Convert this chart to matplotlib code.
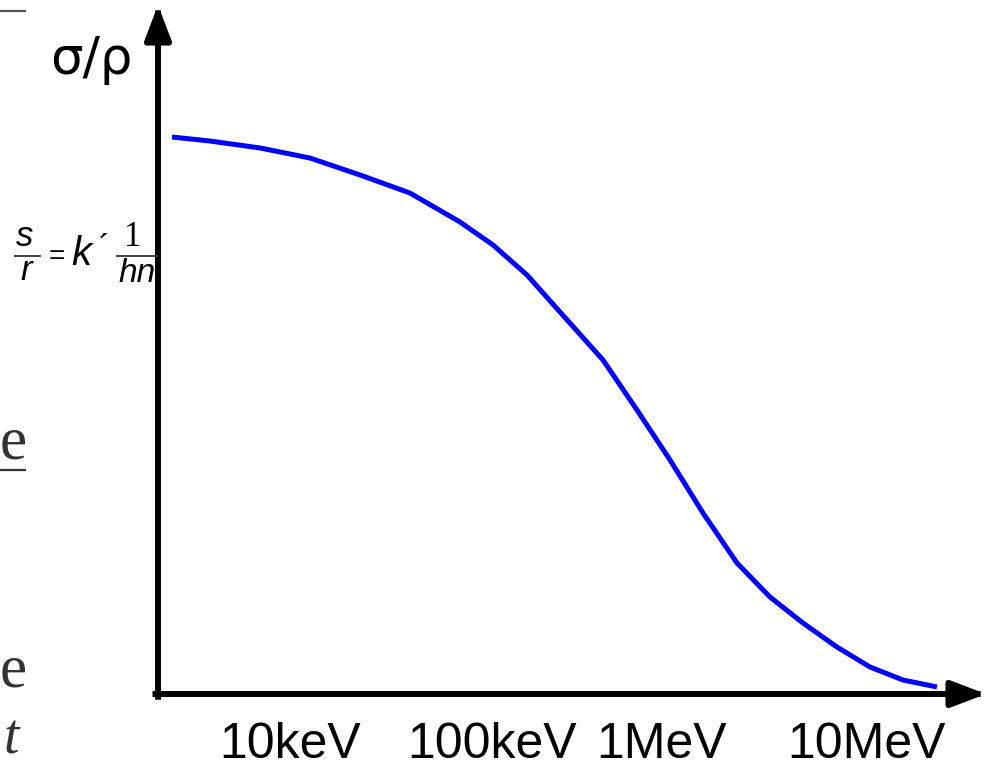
import matplotlib
matplotlib.use("Agg")
import matplotlib.pyplot as plt
from matplotlib.lines import Line2D

# ---- data (schematic: position along energy axis 0..100, sigma/rho 0..100) ----
curve_x = [1.69, 6.28, 12.32, 18.36, 24.40, 30.43, 36.47, 40.46, 44.57,
           48.55, 50.72, 53.74, 57.85, 61.84, 65.82, 69.93, 73.91, 77.90,
           82.00, 85.99, 89.98, 94.08]
curve_y = [80.84, 80.26, 79.25, 77.79, 75.33, 72.71, 68.51, 65.17, 60.81,
           55.44, 52.54, 48.48, 41.22, 33.96, 26.27, 19.01, 14.08, 10.30,
           6.82, 3.92, 2.03, 1.02]
tick_pos = [15.94, 40.34, 60.87, 85.51]
tick_labels = ["10keV", "100keV", "1MeV", "10MeV"]
y_label = "σ/ρ"

W, H = 987, 766
fig = plt.figure(figsize=(W / 100, H / 100), dpi=100)
fig.patch.set_facecolor("white")

x0, y0, x1, y1 = 158, 694, 986, 5
ax = fig.add_axes([x0 / W, 1 - y0 / H, (x1 - x0) / W, (y0 - y1) / H])
ax.set_xlim(0, 100)
ax.set_ylim(0, 100)
ax.patch.set_alpha(0)
for s in ax.spines.values():
    s.set_visible(False)

ax.plot(curve_x, curve_y, color="#0000FF", lw=3.6, solid_capstyle="butt",
        solid_joinstyle="round")

ax.set_xticks(tick_pos)
ax.set_xticklabels(tick_labels, fontfamily="Liberation Sans", fontsize=36)
ax.tick_params(axis="x", length=0, pad=20)
ax.set_yticks([])

arrow = dict(arrowstyle="-|>,head_length=0.42,head_width=0.16", lw=4.3,
             color="black", shrinkA=0, shrinkB=0, mutation_scale=50,
             capstyle="projecting")
ax.annotate("", xy=(1, 0), xytext=(-0.003, 0), xycoords="axes fraction",
            arrowprops=arrow, annotation_clip=False)
ax.annotate("", xy=(0, 1), xytext=(0, -0.004), xycoords="axes fraction",
            arrowprops=arrow, annotation_clip=False)

def ftext(px, py, s, **kw):
    fig.text(px / W, 1 - py / H, s, **kw)

# y-axis label
ftext(91, 60, y_label, fontsize=37, fontfamily="DejaVu Sans",
      ha="center", va="center")

# formula (as rendered in the source)
ital = dict(fontfamily="Liberation Sans", style="italic", fontsize=25,
            ha="center")
ftext(25, 237, "s", va="center", **ital)
ftext(26, 271, "r", va="center", **ital)
fig.add_artist(Line2D([15 / W, 40 / W], [1 - 256 / H, 1 - 256 / H],
                      color="#333333", lw=1.3))
ftext(57, 257, "=", va="center", fontfamily="Liberation Sans", fontsize=20,
      ha="center")
ftext(81, 254, "k", va="center", fontfamily="Liberation Sans",
      style="italic", fontsize=29, ha="center")
ftext(104, 249, "´", va="center", fontfamily="Liberation Sans",
      fontsize=24, ha="center")
ftext(133, 238, "1", va="center", fontfamily="Liberation Serif",
      fontsize=25, ha="center")
fig.add_artist(Line2D([117 / W, 157 / W], [1 - 256 / H, 1 - 256 / H],
                      color="#333333", lw=1.3))
ftext(137, 274, "hn", va="center", fontfamily="Liberation Sans",
      style="italic", fontsize=24, ha="center")

# partial text at the left margin
serif = dict(fontfamily="Liberation Serif", fontsize=44, color="#333333",
             ha="left")
ftext(0, 444, "e", va="center", **serif)
fig.add_artist(Line2D([0, 25 / W], [1 - 470 / H, 1 - 470 / H],
                      color="#333333", lw=1.6))
ftext(0, 672, "e", va="center", **serif)
ftext(4, 765, "t", va="bottom", fontfamily="Liberation Serif",
      style="italic", fontsize=40, color="#333333", ha="left")
fig.add_artist(Line2D([0, 25 / W], [1 - 11 / H, 1 - 11 / H],
                      color="#555555", lw=1.6))

fig.savefig("out.png", dpi=100, facecolor="white")
